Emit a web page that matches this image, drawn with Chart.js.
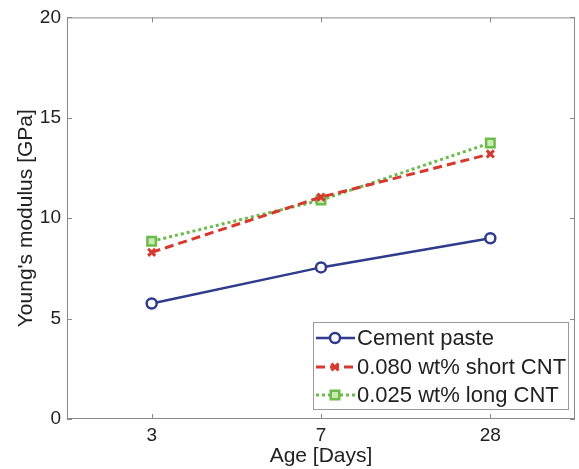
<!DOCTYPE html>
<html>
<head>
<meta charset="utf-8">
<script src="https://cdn.jsdelivr.net/npm/chart.js@4.4.0/dist/chart.umd.min.js"></script>
<style>
  html, body { margin: 0; padding: 0; background: #fff; }
  #wrap { width: 579px; height: 469px; }
</style>
</head>
<body>
<div id="wrap"><canvas id="youngs-chart" width="579" height="469"></canvas></div>
<script>
// data
const ages = ['3', '7', '28'];
const cementPaste = [5.75, 7.55, 9.0];
const shortCNT = [8.3, 11.05, 13.2];
const longCNT = [8.85, 10.9, 13.75];
const yTicks = [0, 5, 10, 15, 20];

const FONT = "'Liberation Sans', Arial, Helvetica, sans-serif";

function toPoints(values){
    return values.map((v, i) => ({ x: i + 1, y: v }));
}

// frame, inward tick marks and the legend box inside the axes
const matlabAxes = {
    id: 'matlabAxes',
    afterDraw(chart){
        const ctx = chart.ctx;
        const a = chart.chartArea;
        const xs = chart.scales.x, ys = chart.scales.y;
        ctx.save();
        ctx.strokeStyle = '#8a8a8a';
        ctx.lineWidth = 1;
        ctx.strokeRect(a.left + 0.5, a.top + 0.5, a.right - a.left - 1, a.bottom - a.top - 1);
        ctx.beginPath();
        [1, 2, 3].forEach(v => {
            const px = Math.round(xs.getPixelForValue(v)) + 0.5;
            ctx.moveTo(px, a.bottom); ctx.lineTo(px, a.bottom - 5);
            ctx.moveTo(px, a.top); ctx.lineTo(px, a.top + 5);
        });
        yTicks.forEach(v => {
            const py = Math.round(ys.getPixelForValue(v)) + 0.5;
            ctx.moveTo(a.left, py); ctx.lineTo(a.left + 5, py);
            ctx.moveTo(a.right, py); ctx.lineTo(a.right - 5, py);
        });
        ctx.stroke();

        // legend
        const bx = 313, by = 322, bw = 255, bh = 87;
        ctx.fillStyle = '#fff';
        ctx.fillRect(bx, by, bw, bh);
        ctx.strokeStyle = '#9a9a9a';
        ctx.strokeRect(bx + 0.5, by + 0.5, bw, bh);
        const rows = [338, 367, 395];
        chart.data.datasets.forEach((ds, i) => {
            const y = rows[i];
            ctx.strokeStyle = ds.borderColor;
            ctx.lineWidth = ds.borderWidth;
            ctx.setLineDash(ds.borderDash || []);
            ctx.beginPath();
            ctx.moveTo(bx + 3, y); ctx.lineTo(bx + 42, y);
            ctx.stroke();
            ctx.setLineDash([]);
            ctx.strokeStyle = ds.pointBorderColor;
            ctx.fillStyle = ds.pointBackgroundColor || ds.pointBorderColor;
            ctx.lineWidth = ds.pointBorderWidth;
            Chart.helpers.drawPoint(ctx, {
                pointStyle: ds.pointStyle,
                radius: ds.pointRadius,
                rotation: 0,
                borderWidth: ds.pointBorderWidth
            }, bx + 22, y);
            ctx.fillStyle = '#222';
            ctx.font = '22px ' + FONT;
            ctx.textBaseline = 'middle';
            ctx.textAlign = 'left';
            ctx.fillText(ds.label, bx + 44, y + 1);
        });
        ctx.restore();
    }
};

new Chart(document.getElementById('youngs-chart'), {
    type: 'line',
    data: {
        datasets: [
            {
                label: 'Cement paste',
                data: toPoints(cementPaste),
                borderColor: '#2f3b8c',
                backgroundColor: '#ffffff',
                borderWidth: 2.5,
                pointStyle: 'circle',
                pointRadius: 5,
                pointBorderWidth: 2.5,
                pointBackgroundColor: '#ffffff',
                pointBorderColor: '#2f3b8c'
            },
            {
                label: '0.080 wt% short CNT',
                data: toPoints(shortCNT),
                borderColor: '#d63a2f',
                backgroundColor: '#d63a2f',
                borderWidth: 3,
                borderDash: [9, 5],
                pointStyle: 'crossRot',
                pointRadius: 5,
                pointBorderWidth: 3,
                pointBackgroundColor: '#d63a2f',
                pointBorderColor: '#d63a2f'
            },
            {
                label: '0.025 wt% long CNT',
                data: toPoints(longCNT),
                borderColor: '#6cbb4c',
                backgroundColor: '#8fd06a',
                borderWidth: 3,
                borderDash: [3, 3],
                pointStyle: 'rect',
                pointRadius: 6,
                pointBorderWidth: 2.5,
                pointBackgroundColor: '#c8ecb0',
                pointBorderColor: '#6cbb4c'
            }
        ]
    },
    options: {
        responsive: false,
        animation: false,
        layout: { autoPadding: false, padding: { top: 16, right: 4, left: 0, bottom: 0 } },
        plugins: {
            legend: { display: false },
            tooltip: { enabled: false }
        },
        scales: {
            x: {
                type: 'linear',
                min: 0.5,
                max: 3.5,
                afterBuildTicks: s => { s.ticks = ages.map((a, i) => ({ value: i + 1 })); },
                afterFit: s => { s.height = 50; },
                grid: { display: false, drawTicks: false },
                border: { display: false },
                ticks: {
                    padding: 5,
                    color: '#222',
                    font: { family: FONT, size: 19 },
                    callback: v => ages[v - 1]
                },
                title: {
                    display: true,
                    text: 'Age [Days]',
                    color: '#222',
                    font: { family: FONT, size: 21 },
                    padding: { top: 0, bottom: 0 }
                }
            },
            y: {
                min: 0,
                max: 20,
                afterBuildTicks: s => { s.ticks = yTicks.map(v => ({ value: v })); },
                afterFit: s => { s.width = 67; },
                grid: { display: false, drawTicks: false },
                border: { display: false },
                ticks: {
                    padding: 6,
                    color: '#222',
                    font: { family: FONT, size: 19 }
                },
                title: {
                    display: true,
                    text: "Young's modulus [GPa]",
                    color: '#222',
                    font: { family: FONT, size: 21 },
                    padding: { top: 14, bottom: 0 }
                }
            }
        }
    },
    plugins: [matlabAxes]
});
</script>
</body>
</html>
